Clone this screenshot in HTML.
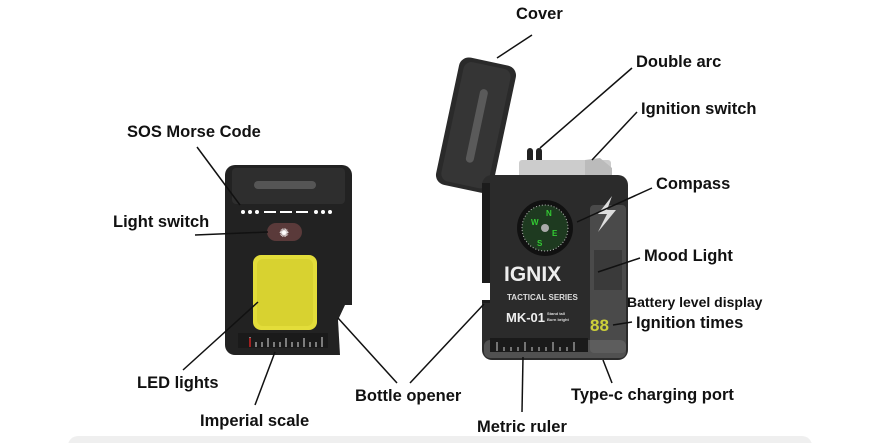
<!DOCTYPE html>
<html><head><meta charset="utf-8"><style>
html,body{margin:0;padding:0;background:#fff;}
svg{display:block;}
text{font-family:"Liberation Sans","DejaVu Sans",sans-serif;font-weight:bold;fill:#111;}
</style></head><body>
<svg width="877" height="443" viewBox="0 0 877 443" xmlns="http://www.w3.org/2000/svg">
<rect x="0" y="0" width="877" height="443" fill="#fff"/>
<rect x="68" y="436" width="744" height="20" rx="10" fill="#efefef"/>

<!-- LEFT DEVICE -->
<rect x="225" y="165" width="127" height="190" rx="10" fill="#222"/>
<rect x="232" y="168" width="113" height="36" rx="4" fill="#2e2e2e"/>
<rect x="254" y="181" width="62" height="8" rx="4" fill="#555"/>
<g fill="#fff">
<circle cx="243" cy="212" r="2"/><circle cx="250" cy="212" r="2"/><circle cx="257" cy="212" r="2"/>
<rect x="264" y="211" width="12" height="2"/><rect x="280" y="211" width="12" height="2"/><rect x="296" y="211" width="12" height="2"/>
<circle cx="316" cy="212" r="2"/><circle cx="323" cy="212" r="2"/><circle cx="330" cy="212" r="2"/>
</g>
<rect x="267" y="223" width="35" height="18" rx="9" fill="#5a3a3a"/>
<text x="279" y="237" style="font-size:12px;fill:#fff">✺</text>
<rect x="253" y="255" width="64" height="75" rx="8" fill="#e3dd3a"/>
<rect x="257" y="259" width="56" height="67" rx="6" fill="#d8d230"/>
<path d="M345 305 L352 305 L352 355 L340 355 L338 320 Z" fill="#fff"/>
<rect x="238" y="333" width="90" height="15" fill="#1a1a1a"/>
<g stroke="#ddd" stroke-width="1">
<line x1="250" y1="347" x2="250" y2="337"/><line x1="256" y1="347" x2="256" y2="342"/><line x1="262" y1="347" x2="262" y2="342"/><line x1="268" y1="347" x2="268" y2="338"/><line x1="274" y1="347" x2="274" y2="342"/><line x1="280" y1="347" x2="280" y2="342"/><line x1="286" y1="347" x2="286" y2="338"/><line x1="292" y1="347" x2="292" y2="342"/><line x1="298" y1="347" x2="298" y2="342"/><line x1="304" y1="347" x2="304" y2="338"/><line x1="310" y1="347" x2="310" y2="342"/><line x1="316" y1="347" x2="316" y2="342"/><line x1="322" y1="347" x2="322" y2="337"/>
</g>
<line x1="250" y1="338" x2="250" y2="347" stroke="#c22" stroke-width="1.5"/>

<!-- LID -->
<g transform="rotate(12 475 125)">
<rect x="447" y="60" width="58" height="130" rx="10" fill="#2a2a2a"/>
<rect x="452" y="64" width="48" height="122" rx="8" fill="#353535"/>
<rect x="473" y="88" width="8" height="75" rx="4" fill="#5a5a5a"/>
</g>

<!-- RIGHT DEVICE -->
<rect x="527" y="148" width="6" height="16" rx="3" fill="#222"/>
<rect x="536" y="148" width="6" height="16" rx="3" fill="#222"/>
<rect x="519" y="160" width="92" height="20" rx="3" fill="#ccc"/>
<path d="M585 160 L600 158 L612 168 L612 180 L585 180 Z" fill="#bbb"/>
<rect x="482" y="175" width="146" height="185" rx="10" fill="#2b2b2b"/>
<rect x="482" y="183" width="8" height="120" fill="#1c1c1c"/>
<rect x="590" y="205" width="36" height="148" rx="4" fill="#4a4a4a"/>
<rect x="594" y="250" width="28" height="40" fill="#3a3a3a"/>
<rect x="484" y="340" width="142" height="18" rx="6" fill="#6a6a6a" opacity="0.6"/>
<circle cx="545" cy="228" r="28" fill="#111"/>
<circle cx="545" cy="228" r="23" fill="#1e3a20" stroke="#bbb" stroke-width="1" stroke-dasharray="1 2"/>
<circle cx="545" cy="228" r="4" fill="#aaa"/>
<text x="531" y="225" style="font-size:8px;fill:#3c3">W</text>
<text x="546" y="216" style="font-size:8px;fill:#3c3">N</text>
<text x="552" y="236" style="font-size:8px;fill:#3c3">E</text>
<text x="537" y="246" style="font-size:8px;fill:#3c3">S</text>
<path d="M612 196 L598 214 L607 214 L598 232 L616 210 L607 210 Z" fill="#ddd"/>
<text x="504" y="281" style="font-size:21px;fill:#eee">IGNIX</text>
<text x="507" y="300" style="font-size:8px;fill:#ddd">TACTICAL SERIES</text>
<text x="506" y="322" style="font-size:13px;fill:#eee">MK-01</text>
<text x="547" y="315" style="font-size:4px;fill:#ddd">Stand tall</text>
<text x="547" y="321" style="font-size:4px;fill:#ddd">Burn bright</text>
<path d="M482 283 L490 283 L490 300 L482 300 Z" fill="#fff"/>
<text x="590" y="331" style="font-size:17px;fill:#cdd03a">88</text>
<rect x="490" y="338" width="98" height="14" fill="#1a1a1a"/>
<g stroke="#ccc" stroke-width="1">
<line x1="497" y1="351" x2="497" y2="342"/><line x1="504" y1="351" x2="504" y2="347"/><line x1="511" y1="351" x2="511" y2="347"/><line x1="518" y1="351" x2="518" y2="347"/><line x1="525" y1="351" x2="525" y2="342"/><line x1="532" y1="351" x2="532" y2="347"/><line x1="539" y1="351" x2="539" y2="347"/><line x1="546" y1="351" x2="546" y2="347"/><line x1="553" y1="351" x2="553" y2="342"/><line x1="560" y1="351" x2="560" y2="347"/><line x1="567" y1="351" x2="567" y2="347"/><line x1="574" y1="351" x2="574" y2="342"/>
</g>

<!-- LEADER LINES -->
<g stroke="#111" stroke-width="1.5" fill="none">
<line x1="532" y1="35" x2="497" y2="58"/>
<line x1="632" y1="68" x2="540" y2="148"/>
<line x1="637" y1="112" x2="592" y2="160"/>
<line x1="652" y1="188" x2="577" y2="222"/>
<line x1="640" y1="258" x2="598" y2="272"/>
<line x1="632" y1="322" x2="613" y2="325"/>
<line x1="612" y1="383" x2="603" y2="360"/>
<line x1="522" y1="412" x2="523" y2="357"/>
<line x1="410" y1="383" x2="484" y2="304"/>
<line x1="397" y1="383" x2="338" y2="318"/>
<line x1="255" y1="405" x2="275" y2="352"/>
<line x1="183" y1="370" x2="258" y2="302"/>
<line x1="195" y1="235" x2="268" y2="232"/>
<line x1="197" y1="147" x2="240" y2="205"/>
</g>

<!-- LABELS -->
<g style="font-size:16.5px">
<text x="516" y="19">Cover</text>
<text x="636" y="67">Double arc</text>
<text x="641" y="114">Ignition switch</text>
<text x="656" y="189">Compass</text>
<text x="644" y="261">Mood Light</text>
<text x="627" y="307" style="font-size:14px">Battery level display</text>
<text x="636" y="328">Ignition times</text>
<text x="571" y="400">Type-c charging port</text>
<text x="477" y="432">Metric ruler</text>
<text x="355" y="401">Bottle opener</text>
<text x="200" y="426">Imperial scale</text>
<text x="137" y="388">LED lights</text>
<text x="113" y="227">Light switch</text>
<text x="127" y="137">SOS Morse Code</text>
</g>
</svg>
</body></html>
